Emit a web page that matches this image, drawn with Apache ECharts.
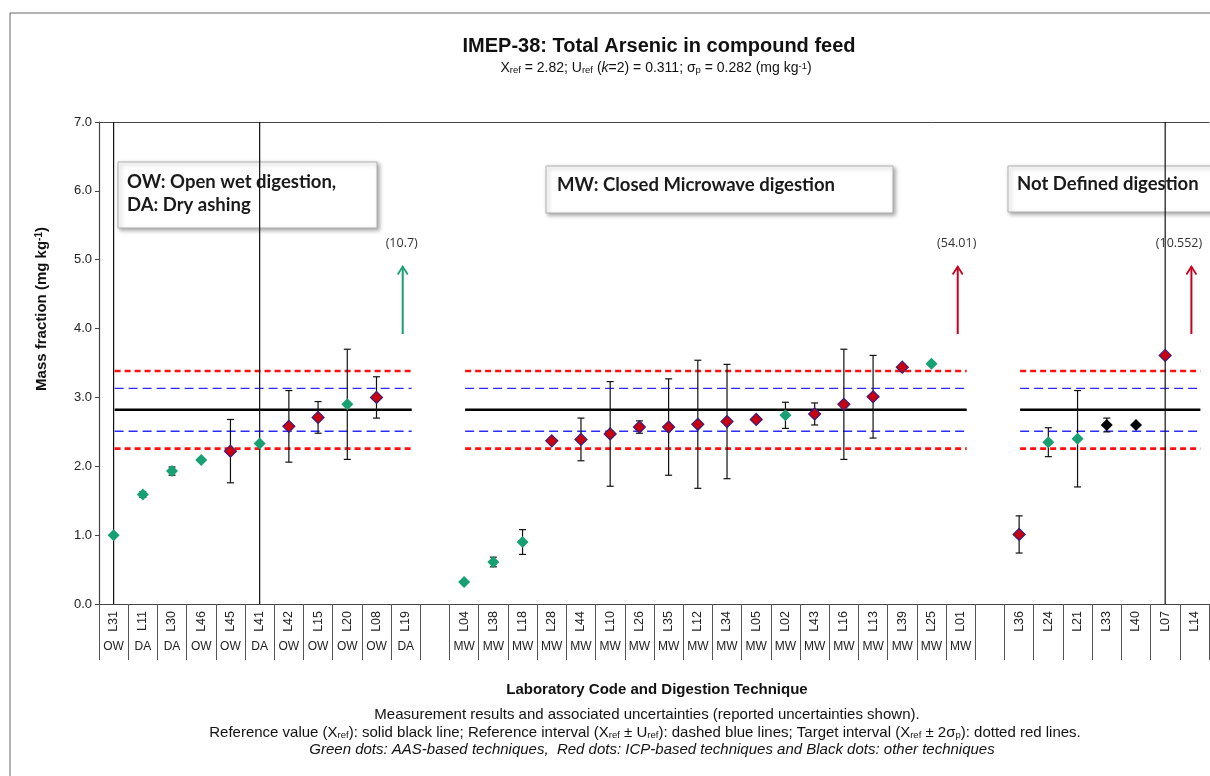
<!DOCTYPE html>
<html><head><meta charset="utf-8">
<script src="https://cdn.jsdelivr.net/npm/echarts@6/dist/echarts.min.js"></script>
<style>html,body{margin:0;padding:0;background:#fff}#c{width:1210px;height:776px}</style>
</head><body><div id="c"></div>
<script>
// ---------- DATA ----------
const labCodes = ['L31','L11','L30','L46','L45','L41','L42','L15','L20','L08','L19',' ',
  'L04','L38','L18','L28','L44','L10','L26','L35','L12','L34','L05','L02','L43','L16','L13','L39','L25','L01','  ',
  'L36','L24','L21','L33','L40','L07','L14'];
const techniques = ['OW','DA','DA','OW','OW','DA','OW','OW','OW','OW','DA','',
  'MW','MW','MW','MW','MW','MW','MW','MW','MW','MW','MW','MW','MW','MW','MW','MW','MW','MW','',
  '','','','','','',''];
const values = [1.00,1.59,1.93,2.09,2.22,2.33,2.58,2.71,2.90,3.00,null,null,
  0.32,0.61,0.90,2.37,2.39,2.47,2.57,2.57,2.61,2.65,2.68,2.74,2.76,2.90,3.01,3.44,3.49,null,null,
  1.01,2.35,2.40,2.60,2.60,3.61,null];
const uncertainties = [10,0.04,0.06,0,0.46,10,0.52,0.23,0.80,0.30,null,null,
  0,0.07,0.18,0,0.31,0.76,0.09,0.70,0.93,0.83,0,0.19,0.16,0.80,0.60,0,0,null,null,
  0.27,0.21,0.70,0.10,0,10,null];
// technique class: A = AAS (green), I = ICP (red), O = other (black)
const dotClass = ['A','A','A','A','I','A','I','I','A','I','A','',
  'A','A','A','I','I','I','I','I','I','I','I','A','I','I','I','I','A','I','',
  'I','A','A','O','O','I','I'];
const offScaleLabs = ['L19','L01','L14'];
const offScaleTexts = ['(10.7)','(54.01)','(10.552)'];
const refValue = 2.82, refU = 0.311, sigmaP = 0.282;
const groupStart = ['L31','L04','L36'];
const groupEnd = ['L19','L01','L14'];
const yTickValues = [0,1,2,3,4,5,6,7];

// ---------- BUILD ----------
const GREEN = '#17a072', RED = '#c8001e', BLACK = '#000000';
const FONT = '"Liberation Sans", Arial, sans-serif';
const BOXFONT = 'Lato, "Open Sans", sans-serif';
function pts(cls){
  const out = [];
  values.forEach((v,i)=>{ if(v!=null && dotClass[i]===cls) out.push([i,v]); });
  return out;
}
const errData = [];
values.forEach((v,i)=>{ if(v!=null && uncertainties[i]>0) errData.push([i,v,uncertainties[i]]); });

const refLevels = [refValue, refValue+refU, refValue-refU, refValue+2*sigmaP, refValue-2*sigmaP];
const refKinds = [0,1,1,2,2];
const refData = [];
groupStart.forEach((s,g)=>{
  refLevels.forEach((lv,k)=>{
    refData.push([labCodes.indexOf(s), labCodes.indexOf(groupEnd[g]), lv, refKinds[k]]);
  });
});
const refStyles = [
  {stroke:'#000', lineWidth:2.6},
  {stroke:'#2b2bff', lineWidth:1.3, lineDash:[9,5]},
  {stroke:'#ff1010', lineWidth:2.6, lineDash:[6,4]}
];
const arrowData = offScaleLabs.map((l,k)=>[labCodes.indexOf(l), k]);

const chart = echarts.init(document.getElementById('c'), null, {renderer:'canvas'});
const boxStyle = {fill:'#fff', stroke:'#b0b0b0', lineWidth:1, shadowBlur:4, shadowOffsetX:2, shadowOffsetY:2, shadowColor:'rgba(0,0,0,0.35)'};
const option = {
  animation:false,
  backgroundColor:'#fff',
  grid:{left:99, right:1, top:122, bottom:172},
  xAxis:[{
    type:'category', data:labCodes, boundaryGap:true, position:'bottom',
    axisLine:{show:true, lineStyle:{color:'#444', width:1.2}},
    axisTick:{show:true, interval:0, length:56, lineStyle:{color:'#555'}},
    axisLabel:{interval:0, rotate:90, margin:7, fontSize:12.5, color:'#222', fontFamily:FONT},
    splitLine:{show:false}
  },{
    type:'category', data:techniques, position:'bottom', offset:0,
    axisLine:{show:false}, axisTick:{show:false},
    axisLabel:{interval:0, margin:37, fontSize:12, color:'#222', fontFamily:FONT},
    splitLine:{show:false}
  },{
    type:'category', data:labCodes, position:'top',
    axisLine:{show:true, lineStyle:{color:'#444', width:1}}, axisTick:{show:false}, axisLabel:{show:false}
  }],
  yAxis:{
    type:'value', min:0, max:7, interval:1,
    axisLine:{show:true, lineStyle:{color:'#444', width:1.2}},
    axisTick:{show:true, length:4, lineStyle:{color:'#444'}},
    axisLabel:{margin:7, fontSize:13, color:'#222', fontFamily:FONT,
      formatter:v=> yTickValues.indexOf(v)>=0 ? v.toFixed(1) : ''},
    splitLine:{show:false}
  },
  series:[
    { type:'custom', name:'refs', z:2, data:refData, clip:false,
      renderItem:(params, api)=>{
        const s = api.coord([api.value(0), api.value(2)]);
        const e = api.coord([api.value(1), api.value(2)]);
        const st = refStyles[api.value(3)];
        return {type:'line', shape:{x1:s[0]+1, y1:s[1], x2:e[0]+6, y2:e[1]}, style:Object.assign({fill:null}, st)};
      }
    },
    { type:'custom', name:'arrows', z:3, data:arrowData, clip:false,
      renderItem:(params, api)=>{
        const idx = api.value(0), k = api.value(1);
        const cls = dotClass[idx];
        const col = cls==='A' ? GREEN : RED;
        const a = api.coord([idx, 3.92]), b = api.coord([idx, 4.90]), t = api.coord([idx, 5.23]);
        const right = params.coordSys.x + params.coordSys.width;
        let tx = Math.min(t[0]-4, right - 30);
        return {type:'group', children:[
          {type:'line', shape:{x1:a[0]-3, y1:a[1], x2:b[0]-3, y2:b[1]}, style:{stroke:col, lineWidth:2}},
          {type:'polyline', shape:{points:[[b[0]-8,b[1]+8],[b[0]-3,b[1]],[b[0]+2,b[1]+8]]}, style:{stroke:col, lineWidth:1.8, fill:null}},
          {type:'text', style:{text:offScaleTexts[k], x:tx, y:t[1], align:'center', verticalAlign:'middle',
             font:'12.5px "Open Sans", "Liberation Sans", sans-serif', fill:'#333'}}
        ]};
      }
    },
    { type:'custom', name:'errors', z:4, data:errData, clip:false,
      renderItem:(params, api)=>{
        const idx = api.value(0), v = api.value(1), u = api.value(2);
        const x = api.coord([idx, v])[0];
        const hi = api.coord([idx, v+u])[1], lo = api.coord([idx, v-u])[1];
        const top = params.coordSys.y, bot = top + params.coordSys.height;
        const children = [{type:'line', shape:{x1:x, y1:Math.max(hi,top), x2:x, y2:Math.min(lo,bot)}, style:{stroke:'#111', lineWidth:1.2}}];
        if (hi >= top) children.push({type:'line', shape:{x1:x-3.5, y1:hi, x2:x+3.5, y2:hi}, style:{stroke:'#111', lineWidth:1.2}});
        if (lo <= bot) children.push({type:'line', shape:{x1:x-3.5, y1:lo, x2:x+3.5, y2:lo}, style:{stroke:'#111', lineWidth:1.2}});
        return {type:'group', children};
      }
    },
    { type:'scatter', name:'AAS', z:5, symbol:'diamond', symbolSize:[12,12], data:pts('A'),
      itemStyle:{color:GREEN, opacity:1} },
    { type:'scatter', name:'ICP', z:5, symbol:'diamond', symbolSize:[12,12], data:pts('I'),
      itemStyle:{color:'#c80010', borderColor:'#3a1d78', borderWidth:1.2, opacity:1} },
    { type:'scatter', name:'Other', z:5, symbol:'diamond', symbolSize:[12,12], data:pts('O'),
      itemStyle:{color:BLACK, opacity:1} }
  ],
  graphic:[
    {type:'rect', z:-10, shape:{x:10, y:13, width:1220, height:790}, style:{fill:null, stroke:'#666', lineWidth:1}},
    {type:'text', style:{text:'IMEP-38: Total Arsenic in compound feed', x:659, y:46, align:'center', verticalAlign:'middle',
      font:'bold 20px '+FONT, fill:'#111'}},
    {type:'text', style:{
      text:'X{s|ref} = 2.82; U{s|ref} ({i|k}=2) = 0.311; σ{s|p} = 0.282 (mg kg{p|-1})',
      x:656, y:68, align:'center', verticalAlign:'middle',
      font:'14px '+FONT, fill:'#111',
      rich:{s:{fontSize:9.5, verticalAlign:'bottom', fontFamily:FONT}, i:{fontStyle:'italic', fontSize:14, fontFamily:FONT}, p:{fontSize:9.5, verticalAlign:'top', fontFamily:FONT}}
    }},
    {type:'text', rotation:Math.PI/2, x:42, y:309, style:{
      text:'Mass fraction (mg kg{p|-1})', x:0, y:0, align:'center', verticalAlign:'middle',
      font:'bold 15px '+FONT, fill:'#111',
      rich:{p:{fontSize:10, fontWeight:'bold', verticalAlign:'top', fontFamily:FONT}}
    }},
    // annotation boxes
    {type:'group', z:100, children:[
      {type:'rect', shape:{x:118, y:162, width:259, height:66}, style:boxStyle},
      {type:'text', style:{text:'OW: Open wet digestion,\nDA: Dry ashing', x:127, y:194, verticalAlign:'middle', lineHeight:23,
        font:'bold 18.5px '+BOXFONT, fill:'#1a1a1a'}},
      {type:'rect', shape:{x:546, y:166, width:347, height:47}, style:boxStyle},
      {type:'text', style:{text:'MW: Closed Microwave digestion', x:557, y:185, verticalAlign:'middle',
        font:'bold 18.5px '+BOXFONT, fill:'#1a1a1a'}},
      {type:'rect', shape:{x:1008, y:166, width:215, height:46}, style:boxStyle},
      {type:'text', style:{text:'Not Defined digestion', x:1017, y:184, verticalAlign:'middle',
        font:'bold 18.5px '+BOXFONT, fill:'#1a1a1a'}}
    ]},
    // bottom texts
    {type:'text', style:{text:'Laboratory Code and Digestion Technique', x:657, y:690, align:'center', verticalAlign:'middle',
      font:'bold 15px '+FONT, fill:'#111'}},
    {type:'text', style:{text:'Measurement results and associated uncertainties (reported uncertainties shown).', x:647, y:715, align:'center', verticalAlign:'middle',
      font:'15px '+FONT, fill:'#111'}},
    {type:'text', style:{
      text:'Reference value (X{s|ref}): solid black line; Reference interval (X{s|ref} ± U{s|ref}): dashed blue lines; Target interval (X{s|ref} ± 2σ{s|p}): dotted red lines.',
      x:645, y:733, align:'center', verticalAlign:'middle', font:'15px '+FONT, fill:'#111',
      rich:{s:{fontSize:9.5, verticalAlign:'bottom', fontFamily:FONT}}
    }},
    {type:'text', style:{text:'Green dots: AAS-based techniques,  Red dots: ICP-based techniques and Black dots: other techniques', x:652, y:750, align:'center', verticalAlign:'middle',
      font:'italic 15px '+FONT, fill:'#111'}}
  ]
};
chart.setOption(option);
</script></body></html>
